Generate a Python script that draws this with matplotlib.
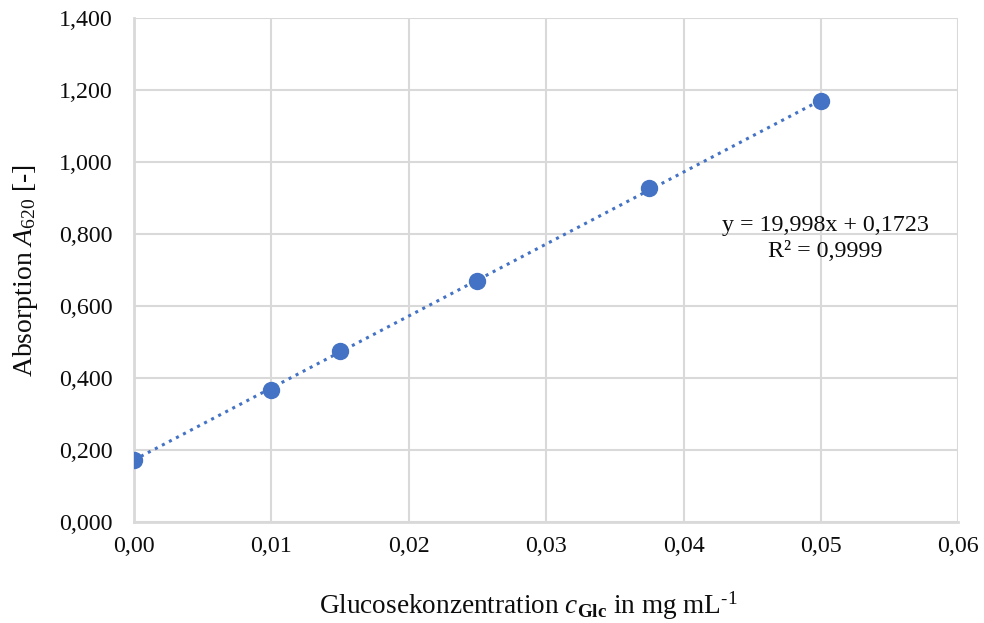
import matplotlib
matplotlib.use("Agg")
import matplotlib.pyplot as plt
import numpy as np

# Data
conc = [0.0, 0.010, 0.015, 0.025, 0.0375, 0.050]
absorb = [0.172, 0.367, 0.475, 0.669, 0.927, 1.171]
slope = 19.998
intercept = 0.1723
xticks = [0.00, 0.01, 0.02, 0.03, 0.04, 0.05, 0.06]
xticklabels = ["0,00", "0,01", "0,02", "0,03", "0,04", "0,05", "0,06"]
yticks = [0.0, 0.2, 0.4, 0.6, 0.8, 1.0, 1.2, 1.4]
yticklabels = ["0,000", "0,200", "0,400", "0,600", "0,800", "1,000", "1,200", "1,400"]

plt.rcParams['font.family'] = ['Liberation Serif', 'DejaVu Serif']
plt.rcParams['mathtext.fontset'] = 'custom'
plt.rcParams['mathtext.rm'] = 'Liberation Serif'
plt.rcParams['mathtext.it'] = 'Liberation Serif:italic'
plt.rcParams['mathtext.bf'] = 'Liberation Serif:bold'

txt_c = '#0d0d0d'
fig = plt.figure(figsize=(9.84, 6.23), dpi=100)
ax = fig.add_axes([0.136, 0.162, 0.838, 0.809])

grid_c = '#d9d9d9'
ax.set_xlim(0, 0.06)
ax.set_ylim(0, 1.4)
ax.set_xticks(xticks)
ax.set_xticklabels(xticklabels)
ax.set_yticks(yticks)
ax.set_yticklabels(yticklabels)
ax.grid(True, color=grid_c, linewidth=1.5)
ax.set_axisbelow(True)
for s in ['top', 'right']:
    ax.spines[s].set_visible(False)
for s in ['left', 'bottom']:
    ax.spines[s].set_color(grid_c)
    ax.spines[s].set_linewidth(2)
ax.tick_params(length=0, labelsize=17.3, colors=txt_c)
ax.tick_params(axis='x', pad=10)
ax.tick_params(axis='y', pad=15.5)

xt = np.array([0.0, 0.05])
ax.plot(xt, slope * xt + intercept, linestyle=(0, (1, 1.6)), color='#4472C4',
        linewidth=2.2, zorder=2)
ax.plot(conc, absorb, 'o', color='#4472C4', markersize=11.5, zorder=3)

ax.text(0.0503, 0.787, "y = 19,998x + 0,1723\nR² = 0,9999", ha='center', va='center',
        fontsize=17.3, color=txt_c, linespacing=1.33)

ax.set_xlabel(r"Glucosekonzentration $\mathit{c}_{\mathbf{Glc}}$ in mg mL$^{\text{-1}}$",
              fontsize=19.6, color=txt_c)
ax.xaxis.set_label_coords(0.479, -0.133)
ax.set_ylabel(r"Absorption $\mathit{A}_{\mathit{620}}$ [-]", fontsize=20, labelpad=13,
              color=txt_c)

fig.savefig("out.png", dpi=100)
